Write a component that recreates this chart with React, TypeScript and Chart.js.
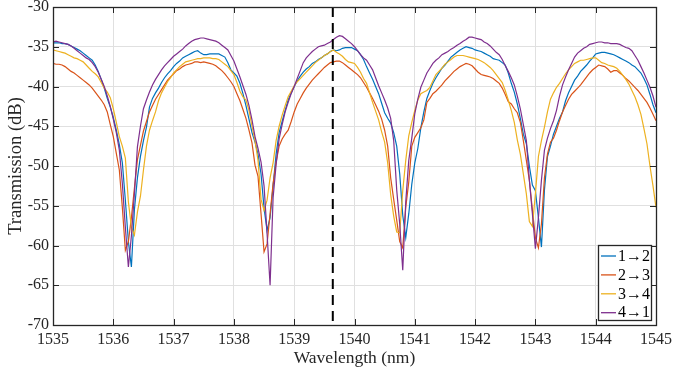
import React, { useEffect, useRef } from "react";
import { Chart, registerables } from "chart.js";

Chart.register(...registerables);

// Transmission (dB) sampled every 0.05 nm from 1535.00 to 1545.00 nm (201 samples)
const series12: number[] = [
  -34.5, -34.5, -34.5, -34.6, -34.6, -34.7, -34.9, -35.1, -35.3, -35.5, -35.8, -36.1, -36.4, -36.7, -37.3, -38.1, -39.1, -40.2, -41.5, -42.6,
  -43.9, -45.5, -47.3, -49.6, -54.3, -59.5, -62.7, -55.5, -51.5, -48.8, -46.8, -45.1, -42.6, -41.5, -40.8, -40.2, -39.5, -38.9, -38.4, -38.0,
  -37.5, -37.1, -36.8, -36.4, -36.2, -36.0, -35.8, -35.6, -35.5, -35.8, -36.0, -36.0, -35.9, -35.9, -35.9, -35.9, -36.1, -36.3, -37.0, -37.9,
  -38.3, -38.7, -39.6, -40.9, -42.4, -44.1, -45.8, -47.0, -48.5, -51.0, -55.3, -58.1, -56.5, -52.5, -48.5, -45.8, -44.4, -43.0, -41.7, -40.8,
  -40.0, -39.3, -38.7, -38.2, -37.8, -37.5, -37.1, -36.9, -36.6, -36.4, -36.1, -35.9, -35.6, -35.4, -35.5, -35.4, -35.2, -35.1, -35.1, -35.1,
  -35.3, -35.5, -36.0, -36.6, -37.5, -38.3, -39.1, -40.0, -40.9, -42.1, -43.3, -44.0, -44.6, -45.8, -47.5, -51.0, -56.2, -59.0, -56.0, -52.3,
  -49.6, -47.8, -45.2, -43.2, -41.5, -40.5, -39.6, -38.9, -38.3, -37.7, -37.3, -36.8, -36.3, -36.0, -35.7, -35.4, -35.2, -35.0, -35.1, -35.2,
  -35.4, -35.5, -35.6, -35.8, -36.0, -36.2, -36.5, -36.6, -36.7, -37.0, -37.3, -38.3, -39.6, -40.7, -42.2, -44.0, -46.0, -47.2, -50.0, -52.4,
  -53.1, -56.5, -60.2, -53.0, -48.8, -47.5, -46.0, -45.0, -44.0, -43.2, -41.8, -40.8, -40.0, -39.2, -38.7, -38.1, -37.7, -37.3, -36.8, -36.4,
  -35.9, -35.8, -35.7, -35.7, -35.8, -35.9, -36.0, -36.2, -36.4, -36.6, -36.8, -37.0, -37.3, -37.5, -37.9, -38.3, -39.0, -39.8, -41.0, -42.3,
  -43.3,
];

const series23: number[] = [
  -37.1, -37.2, -37.2, -37.3, -37.5, -37.8, -38.1, -38.3, -38.6, -38.9, -39.2, -39.5, -39.8, -40.2, -40.7, -41.2, -41.7, -42.3, -43.2, -44.8,
  -46.3, -48.4, -50.5, -55.2, -60.6, -59.5, -56.5, -52.8, -49.2, -47.4, -45.6, -44.4, -43.2, -42.4, -41.6, -41.0, -40.4, -39.8, -39.2, -38.8,
  -38.4, -38.0, -37.8, -37.5, -37.3, -37.2, -37.1, -36.9, -36.9, -37.0, -36.9, -37.0, -37.1, -37.2, -37.4, -37.7, -38.0, -38.4, -38.9, -39.4,
  -40.0, -40.9, -41.8, -42.9, -44.0, -45.5, -47.1, -49.9, -51.3, -56.0, -60.8, -59.8, -56.0, -52.2, -49.5, -47.5, -46.6, -46.0, -45.5, -44.4,
  -43.2, -42.2, -41.5, -40.8, -40.2, -39.7, -39.2, -38.8, -38.4, -38.0, -37.6, -37.3, -37.0, -36.9, -36.8, -36.8, -37.0, -37.3, -37.6, -37.9,
  -38.2, -38.5, -38.9, -39.5, -40.1, -40.8, -41.5, -42.3, -43.1, -44.1, -45.5, -47.5, -51.5, -54.2, -56.8, -59.5, -60.3, -55.2, -52.0, -47.5,
  -46.4, -45.8, -45.2, -44.2, -42.0, -41.5, -40.9, -40.6, -40.2, -39.8, -39.3, -38.9, -38.5, -38.1, -37.8, -37.5, -37.3, -37.1, -37.2, -37.4,
  -37.8, -38.2, -38.5, -38.6, -38.7, -38.8, -39.0, -39.3, -39.6, -40.2, -41.0, -41.9, -42.2, -42.8, -43.3, -44.5, -46.8, -49.3, -51.8, -55.5,
  -59.0, -60.3, -57.3, -51.5, -48.5, -47.0, -46.5, -45.5, -44.3, -43.2, -42.4, -41.6, -41.0, -40.6, -40.2, -39.8, -39.3, -38.8, -38.3, -37.9,
  -37.6, -37.3, -37.4, -37.5, -37.8, -38.2, -38.0, -38.0, -38.3, -38.6, -39.0, -39.3, -39.7, -40.1, -40.5, -41.0, -41.5, -42.0, -42.7, -43.5,
  -44.3,
];

const series34: number[] = [
  -35.4, -35.5, -35.6, -35.7, -35.8, -36.0, -36.2, -36.4, -36.5, -36.7, -36.9, -37.3, -37.7, -38.1, -38.4, -38.8, -39.5, -40.2, -40.7, -41.4,
  -42.8, -44.5, -46.3, -47.5, -49.0, -54.5, -57.7, -58.7, -55.8, -53.8, -50.5, -47.5, -45.5, -44.3, -43.2, -41.8, -40.8, -40.1, -39.4, -38.9,
  -38.3, -37.9, -37.5, -37.2, -36.9, -36.8, -36.7, -36.6, -36.5, -36.5, -36.4, -36.4, -36.4, -36.5, -36.5, -36.6, -36.9, -37.2, -37.5, -38.0,
  -38.5, -39.5, -40.6, -41.3, -41.7, -43.0, -45.0, -46.8, -49.3, -54.2, -55.6, -54.3, -51.5, -49.6, -46.8, -45.0, -43.6, -42.4, -41.3, -40.6,
  -39.9, -39.4, -39.0, -38.6, -38.2, -37.8, -37.4, -37.0, -36.7, -36.4, -36.1, -35.9, -35.6, -35.4, -35.7, -35.9, -36.2, -36.6, -36.9, -37.0,
  -37.1, -37.6, -38.2, -39.0, -39.6, -40.8, -42.0, -43.1, -44.2, -45.7, -47.0, -49.6, -53.6, -56.3, -58.3, -58.4, -53.1, -49.3, -46.2, -44.5,
  -43.0, -41.7, -40.9, -40.7, -40.5, -40.1, -39.3, -38.5, -38.1, -37.7, -37.2, -36.9, -36.6, -36.3, -36.1, -36.1, -36.1, -36.2, -36.3, -36.4,
  -36.5, -36.6, -36.8, -37.0, -37.3, -37.6, -38.0, -38.5, -39.0, -39.5, -40.5, -41.7, -43.0, -44.5, -46.7, -48.5, -51.0, -53.5, -57.0, -57.6,
  -53.5, -48.8, -46.8, -45.1, -43.2, -41.6, -40.8, -40.1, -39.6, -39.0, -38.4, -37.9, -37.5, -37.1, -36.9, -36.7, -36.7, -36.6, -36.5, -36.4,
  -36.4, -36.7, -37.0, -37.1, -37.3, -37.4, -37.5, -37.7, -38.1, -38.6, -39.1, -39.7, -40.5, -41.3, -42.3, -43.5, -45.3, -47.2, -50.0, -52.5,
  -55.2,
];

const series41: number[] = [
  -34.4, -34.3, -34.4, -34.5, -34.6, -34.7, -34.9, -35.2, -35.5, -35.8, -36.1, -36.4, -36.6, -37.0, -37.5, -38.2, -39.1, -40.0, -41.2, -42.5,
  -44.1, -45.8, -48.0, -52.2, -57.7, -62.7, -58.8, -53.5, -47.6, -45.0, -42.8, -41.7, -40.7, -39.8, -39.1, -38.5, -37.9, -37.4, -37.0, -36.6,
  -36.2, -35.9, -35.6, -35.3, -34.9, -34.6, -34.3, -34.1, -34.0, -33.9, -33.9, -34.0, -34.1, -34.2, -34.3, -34.5, -34.8, -35.1, -35.4, -36.1,
  -36.8, -37.8, -38.8, -39.9, -41.0, -42.4, -44.2, -46.3, -47.8, -49.5, -52.5, -58.5, -65.0, -54.0, -49.8, -46.6, -44.8, -43.2, -42.0, -40.9,
  -40.0, -39.0, -38.0, -37.0, -36.4, -36.0, -35.6, -35.3, -35.0, -34.9, -34.8, -34.6, -34.4, -34.1, -33.8, -33.6, -33.7, -34.0, -34.3, -34.6,
  -35.0, -35.5, -36.0, -36.4, -36.7, -37.3, -37.9, -38.9, -39.9, -40.8, -41.7, -42.7, -44.0, -46.8, -53.0, -57.3, -63.1, -54.5, -49.3, -46.5,
  -43.4, -41.6, -40.1, -39.2, -38.3, -37.7, -37.1, -36.7, -36.4, -36.0, -35.8, -35.6, -35.3, -35.1, -34.8, -34.6, -34.3, -34.1, -33.8, -33.8,
  -33.9, -34.0, -34.1, -34.4, -34.6, -34.9, -35.3, -35.7, -36.0, -36.6, -37.4, -38.1, -38.9, -39.8, -41.2, -42.8, -44.8, -46.8, -51.8, -56.0,
  -60.4, -56.5, -51.8, -48.0, -46.5, -45.3, -44.3, -43.0, -41.2, -39.8, -38.8, -37.9, -37.1, -36.3, -35.8, -35.5, -35.2, -35.0, -34.7, -34.6,
  -34.5, -34.4, -34.4, -34.5, -34.5, -34.6, -34.6, -34.6, -34.7, -34.9, -35.1, -35.2, -35.5, -36.1, -36.7, -37.5, -38.3, -39.2, -40.1, -41.2,
  -42.6,
];

const START_WAVELENGTH = 1535;
const WAVELENGTH_STEP = 0.05;
const wavelengths: number[] = series12.map((_, i) => Math.round((START_WAVELENGTH + i * WAVELENGTH_STEP) * 100) / 100);

const seriesLabels = ["1\u21922", "2\u21923", "3\u21924", "4\u21921"];
const seriesColors = ["#0072BD", "#D95319", "#EDB120", "#7E2F8E"];
const seriesValues = [series12, series23, series34, series41];

const markerWavelength = 1539.64;
const markerRange = [-30, -70];

const xTicks = { min: 1535, max: 1545, step: 1 };
const yTicks = { min: -70, max: -30, step: 5 };

const FONT = "'Liberation Serif', 'Times New Roman', serif";
const LEGEND_FONT = "'Liberation Serif', 'DejaVu Serif', serif";
const AXIS_COLOR = "#262626";

const framePlugin = {
  id: "matlabFrame",
  afterDatasetsDraw(chart: any) {
    const { ctx, chartArea } = chart;
    const { left, right, top, bottom } = chartArea;
    const xs = chart.scales.x;
    const ys = chart.scales.y;
    const tickLen = 6;
    ctx.save();
    ctx.strokeStyle = AXIS_COLOR;
    ctx.lineWidth = 1;
    ctx.beginPath();
    xs.ticks.forEach((t: any) => {
      const px = Math.round(xs.getPixelForValue(t.value)) + 0.5;
      ctx.moveTo(px, bottom);
      ctx.lineTo(px, bottom - tickLen);
      ctx.moveTo(px, top);
      ctx.lineTo(px, top + tickLen);
    });
    ys.ticks.forEach((t: any) => {
      const py = Math.round(ys.getPixelForValue(t.value)) + 0.5;
      ctx.moveTo(left, py);
      ctx.lineTo(left + tickLen, py);
      ctx.moveTo(right, py);
      ctx.lineTo(right - tickLen, py);
    });
    ctx.stroke();
    ctx.lineWidth = 1.3;
    ctx.strokeRect(Math.round(left) + 0.5, Math.round(top) + 0.5, Math.round(right) - Math.round(left), Math.round(bottom) - Math.round(top));
    ctx.restore();
  },
  afterDraw(chart: any) {
    const { ctx, chartArea } = chart;
    const w = 53;
    const h = 75;
    const bx = Math.round(chartArea.right) - 57.5;
    const by = Math.round(chartArea.bottom) - 79.5;
    ctx.save();
    ctx.fillStyle = "#ffffff";
    ctx.fillRect(bx, by, w, h);
    ctx.strokeStyle = AXIS_COLOR;
    ctx.lineWidth = 1.3;
    ctx.strokeRect(bx, by, w, h);
    ctx.font = `16px ${LEGEND_FONT}`;
    ctx.textBaseline = "middle";
    ctx.textAlign = "left";
    seriesLabels.forEach((label, i) => {
      const yy = by + 10.5 + i * 18.9;
      ctx.strokeStyle = seriesColors[i];
      ctx.lineWidth = 1.3;
      ctx.beginPath();
      ctx.moveTo(bx + 2.5, yy);
      ctx.lineTo(bx + 17.5, yy);
      ctx.stroke();
      ctx.fillStyle = "#000000";
      ctx.fillText(label, bx + 19.5, yy + 0.5, w - 21);
    });
    ctx.restore();
  },
};

export default function App() {
  const canvasRef = useRef<HTMLCanvasElement | null>(null);

  useEffect(() => {
    if (!canvasRef.current) return;
    const datasets: any[] = seriesValues.map((vals, i) => ({
      label: seriesLabels[i],
      data: vals.map((v, j) => ({ x: wavelengths[j], y: v })),
      borderColor: seriesColors[i],
      backgroundColor: seriesColors[i],
      borderWidth: 1.2,
      pointRadius: 0,
      tension: 0,
      fill: false,
      order: seriesValues.length - i,
    }));
    datasets.push({
      label: "marker",
      data: markerRange.map((v) => ({ x: markerWavelength, y: v })),
      borderColor: "#000000",
      borderWidth: 2,
      borderDash: [10, 6],
      pointRadius: 0,
      fill: false,
      order: 0,
    });

    const chart = new Chart(canvasRef.current, {
      type: "line",
      data: { datasets },
      options: {
        animation: false,
        responsive: false,
        devicePixelRatio: 1,
        layout: { padding: { left: 0, top: 7, right: 17, bottom: 0 } },
        plugins: { legend: { display: false }, tooltip: { enabled: false } },
        scales: {
          x: {
            type: "linear",
            min: xTicks.min,
            max: xTicks.max,
            ticks: {
              stepSize: xTicks.step,
              color: AXIS_COLOR,
              font: { family: FONT, size: 16 },
              padding: 5,
              maxRotation: 0,
              callback: (v: any) => String(v),
            },
            grid: { color: "#e0e0e0", lineWidth: 1, drawTicks: false },
            border: { display: false },
            title: {
              display: true,
              text: "Wavelength (nm)",
              color: AXIS_COLOR,
              font: { family: FONT, size: 17.5 },
              padding: { top: 0, bottom: 4 },
            },
            afterFit: (scale: any) => {
              scale.height = 48;
              scale.paddingLeft = 0;
              scale.paddingRight = 0;
            },
          },
          y: {
            type: "linear",
            min: yTicks.min,
            max: yTicks.max,
            ticks: {
              stepSize: yTicks.step,
              color: AXIS_COLOR,
              font: { family: FONT, size: 16 },
              padding: 4,
              callback: (v: any) => String(v),
            },
            grid: { color: "#e0e0e0", lineWidth: 1, drawTicks: false },
            border: { display: false },
            title: {
              display: true,
              text: "Transmission (dB)",
              color: AXIS_COLOR,
              font: { family: FONT, size: 18.5 },
              padding: { top: 5.5, bottom: 0 },
            },
            afterFit: (scale: any) => {
              scale.width = 53;
              scale.paddingTop = 0;
              scale.paddingBottom = 0;
            },
          },
        },
      },
      plugins: [framePlugin],
    });
    return () => chart.destroy();
  }, []);

  return (
    <div style={{ position: "fixed", left: 0, top: 0, width: 673, height: 373, background: "#ffffff" }}>
      <canvas ref={canvasRef} width={673} height={373} style={{ display: "block" }} />
    </div>
  );
}
